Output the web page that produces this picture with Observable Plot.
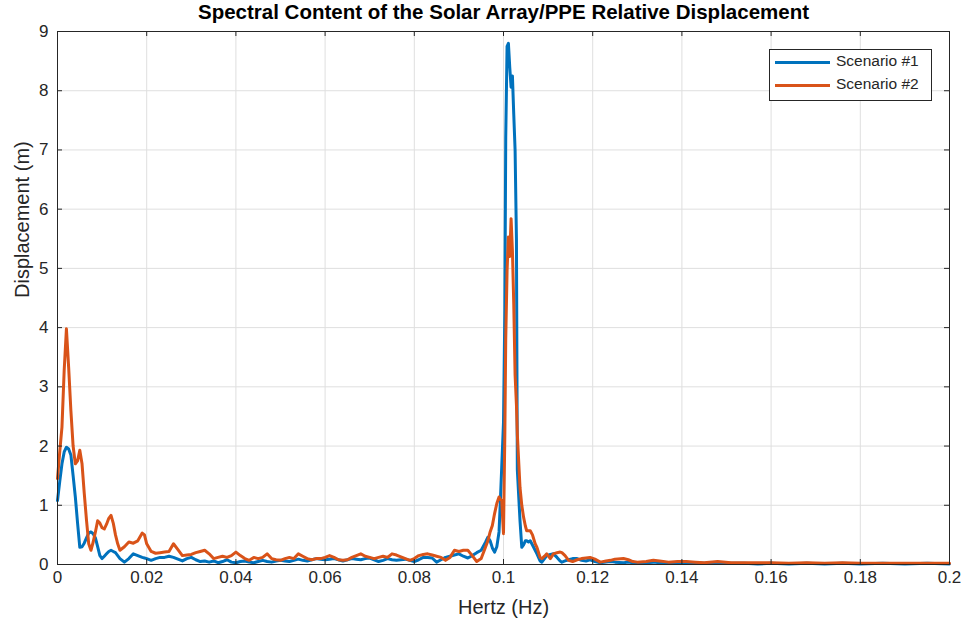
<!DOCTYPE html>
<html>
<head>
<meta charset="utf-8">
<script src="https://cdn.jsdelivr.net/npm/d3@7"></script>
<script src="https://cdn.jsdelivr.net/npm/@observablehq/plot@0.6"></script>
<style>
  body { margin: 0; background: #fff; }
  #wrap { position: relative; width: 966px; height: 627px; font-family: "Liberation Sans", Arial, Helvetica, sans-serif; }
  #legend { position: absolute; left: 769px; top: 49px; width: 161px; height: 50px; border: 1px solid #262626; background: #fff; }
  .item { position: absolute; left: 0; height: 22px; width: 160px; }
  .sw { position: absolute; left: 5px; top: 10px; width: 55px; height: 3px; }
  .lb { position: absolute; left: 66px; top: 1px; font-size: 15.5px; color: #262626; white-space: nowrap; }
</style>
</head>
<body>
<div id="wrap">
  <div id="chart"></div>
  <div id="legend"></div>
</div>
<script>
const title = "Spectral Content of the Solar Array/PPE Relative Displacement";
const xLabel = "Hertz (Hz)";
const yLabel = "Displacement (m)";
const seriesNames = ["Scenario #1", "Scenario #2"];
const seriesColors = ["#0072BD", "#D95319"];
const xTicks = [0, 0.02, 0.04, 0.06, 0.08, 0.1, 0.12, 0.14, 0.16, 0.18, 0.2];
const yTicks = [0, 1, 2, 3, 4, 5, 6, 7, 8, 9];

const freq = [
  0, 0.0005, 0.001, 0.0015, 0.002, 0.0025, 0.003, 0.0035, 0.004, 0.0045,
  0.005, 0.0055, 0.006, 0.0065, 0.007, 0.0075, 0.008, 0.0085, 0.009, 0.0095,
  0.010, 0.0105, 0.011, 0.0115, 0.012, 0.0125, 0.013, 0.0135, 0.014, 0.015,
  0.016, 0.017, 0.018, 0.019, 0.0195, 0.020, 0.021, 0.022, 0.023, 0.024,
  0.025, 0.026, 0.027, 0.028, 0.029, 0.030, 0.031, 0.032, 0.033, 0.034,
  0.035, 0.036, 0.037, 0.038, 0.039, 0.040, 0.041, 0.042, 0.043, 0.044,
  0.045, 0.046, 0.047, 0.048, 0.049, 0.050, 0.051, 0.052, 0.053, 0.054,
  0.055, 0.056, 0.057, 0.058, 0.059, 0.060, 0.061, 0.062, 0.063, 0.064,
  0.065, 0.066, 0.067, 0.068, 0.069, 0.070, 0.071, 0.072, 0.073, 0.074,
  0.075, 0.076, 0.077, 0.078, 0.079, 0.080, 0.081, 0.082, 0.083, 0.084,
  0.085, 0.086, 0.087, 0.088, 0.089, 0.090, 0.091, 0.092, 0.093, 0.094,
  0.095, 0.096, 0.0965, 0.097, 0.0975, 0.098, 0.0985, 0.099, 0.0993, 0.0996,
  0.1000, 0.1003, 0.1005, 0.1008, 0.1011, 0.1014, 0.1017, 0.1020, 0.1023, 0.1026,
  0.1029, 0.1031, 0.1037, 0.1041, 0.1045, 0.1049, 0.1052, 0.1056, 0.1060, 0.1065,
  0.1071, 0.1075, 0.1082, 0.1086, 0.1092, 0.1097, 0.1105, 0.1112, 0.1120, 0.1127,
  0.1131, 0.1138, 0.1146, 0.1155, 0.1165, 0.1175, 0.1185, 0.1194, 0.1205, 0.1217,
  0.123, 0.124, 0.125, 0.1269, 0.128, 0.129, 0.130, 0.132, 0.1336, 0.135,
  0.137, 0.139, 0.141, 0.143, 0.145, 0.148, 0.151, 0.154, 0.157, 0.160,
  0.164, 0.168, 0.172, 0.176, 0.180, 0.185, 0.190, 0.195, 0.200
];

const scenario1 = [
  1.08, 1.4, 1.7, 1.9, 1.98, 1.95, 1.85, 1.5, 1.14, 0.7,
  0.29, 0.3, 0.36, 0.45, 0.53, 0.55, 0.52, 0.45, 0.3, 0.15,
  0.1, 0.14, 0.18, 0.22, 0.24, 0.22, 0.2, 0.15, 0.1, 0.04,
  0.1, 0.18, 0.15, 0.12, 0.11, 0.1, 0.07, 0.1, 0.12, 0.12,
  0.14, 0.12, 0.09, 0.06, 0.1, 0.12, 0.08, 0.05, 0.06, 0.04,
  0.06, 0.03, 0.05, 0.08, 0.04, 0.03, 0.05, 0.06, 0.04, 0.03,
  0.05, 0.07, 0.05, 0.04, 0.06, 0.07, 0.06, 0.05, 0.07, 0.09,
  0.07, 0.06, 0.08, 0.1, 0.09, 0.08, 0.09, 0.1, 0.08, 0.06,
  0.08, 0.1, 0.09, 0.08, 0.1, 0.11, 0.08, 0.05, 0.07, 0.1,
  0.08, 0.07, 0.08, 0.09, 0.07, 0.05, 0.08, 0.12, 0.12, 0.11,
  0.04, 0.08, 0.12, 0.14, 0.16, 0.18, 0.14, 0.11, 0.15, 0.2,
  0.24, 0.38, 0.46, 0.4, 0.28, 0.21, 0.3, 0.55, 1.08, 1.64,
  2.4, 4.3, 7.2, 8.75, 8.8, 8.4, 8.06, 8.25, 7.6, 7.0,
  5.5, 1.6, 0.74, 0.29, 0.33, 0.4, 0.4, 0.38, 0.4, 0.33,
  0.24, 0.18, 0.06, 0.04, 0.1, 0.15, 0.17, 0.18, 0.12, 0.06,
  0.04, 0.06, 0.08, 0.1, 0.1, 0.07, 0.06, 0.08, 0.05, 0.03,
  0.04, 0.05, 0.04, 0.03, 0.04, 0.03, 0.02, 0.03, 0.04, 0.03,
  0.02, 0.03, 0.02, 0.03, 0.02, 0.03, 0.02, 0.02, 0.01, 0.02,
  0.01, 0.02, 0.01, 0.02, 0.01, 0.02, 0.01, 0.02, 0.01
];

const scenario2 = [
  1.45, 1.9, 2.32, 3.28, 3.98, 3.33, 2.6, 2.0, 1.7, 1.75,
  1.93, 1.7, 1.2, 0.75, 0.35, 0.24, 0.38, 0.55, 0.74, 0.7,
  0.62, 0.6, 0.68, 0.78, 0.83, 0.7, 0.5, 0.35, 0.24, 0.3,
  0.38, 0.36, 0.4, 0.53, 0.5, 0.35, 0.22, 0.19, 0.2, 0.21,
  0.22, 0.35, 0.25, 0.15, 0.16, 0.17, 0.2, 0.22, 0.24, 0.18,
  0.1, 0.12, 0.14, 0.12, 0.15, 0.21, 0.15, 0.1, 0.07, 0.12,
  0.1, 0.12, 0.18, 0.1, 0.08, 0.07, 0.1, 0.12, 0.1, 0.18,
  0.14, 0.1, 0.08, 0.1, 0.1, 0.12, 0.15, 0.12, 0.08, 0.07,
  0.08, 0.12, 0.15, 0.18, 0.14, 0.12, 0.1, 0.12, 0.14, 0.12,
  0.18, 0.16, 0.13, 0.1, 0.07, 0.1, 0.15, 0.17, 0.18, 0.16,
  0.14, 0.12, 0.07, 0.12, 0.24, 0.22, 0.24, 0.24, 0.15, 0.05,
  0.1, 0.3, 0.4, 0.55, 0.66, 0.86, 1.03, 1.14, 1.1, 1.08,
  0.52, 2.2, 3.8, 4.96, 5.53, 5.2, 5.84, 5.3, 4.4, 3.2,
  2.7, 2.2, 1.3, 1.0, 0.8, 0.65, 0.57, 0.57, 0.57, 0.5,
  0.35, 0.29, 0.12, 0.1, 0.14, 0.18, 0.1, 0.18, 0.2, 0.21,
  0.2, 0.15, 0.07, 0.05, 0.08, 0.1, 0.11, 0.12, 0.09, 0.04,
  0.06, 0.07, 0.09, 0.1, 0.08, 0.05, 0.04, 0.05, 0.07, 0.06,
  0.04, 0.05, 0.05, 0.04, 0.03, 0.05, 0.03, 0.03, 0.03, 0.03,
  0.02, 0.03, 0.02, 0.03, 0.02, 0.02, 0.02, 0.02, 0.02
];

const W = 966, H = 627, mL = 57, mR = 17, mT = 31, mB = 63;
const innerW = W - mL - mR, innerH = H - mT - mB;
const font = '"Liberation Sans", Arial, Helvetica, sans-serif';
const ink = "#262626";

const rows = freq.map((f, i) => ({f, s1: scenario1[i], s2: scenario2[i]}));

const chart = Plot.plot({
  width: W, height: H,
  marginLeft: mL, marginRight: mR, marginTop: mT, marginBottom: mB,
  style: {fontFamily: font, fontSize: "16px", color: ink, background: "white", overflow: "visible"},
  x: {domain: [0, 0.2]},
  y: {domain: [0, 9]},
  marks: [
    Plot.gridX(xTicks, {stroke: "#dfdfdf", strokeOpacity: 1}),
    Plot.gridY(yTicks, {stroke: "#dfdfdf", strokeOpacity: 1}),
    Plot.lineY(rows, {x: "f", y: "s1", stroke: seriesColors[0], strokeWidth: 3}),
    Plot.lineY(rows, {x: "f", y: "s2", stroke: seriesColors[1], strokeWidth: 3}),
    Plot.frame({stroke: ink, strokeWidth: 1}),
    Plot.tickX(xTicks, {x: d => d, insetTop: innerH - 5, stroke: ink}),
    Plot.tickX(xTicks, {x: d => d, insetBottom: innerH - 5, stroke: ink}),
    Plot.tickY(yTicks, {y: d => d, insetRight: innerW - 5, stroke: ink}),
    Plot.tickY(yTicks, {y: d => d, insetLeft: innerW - 5, stroke: ink}),
    Plot.axisX(xTicks, {tickSize: 0, tickPadding: 6, tickFormat: d => String(d), label: null, fill: ink, fontSize: 17}),
    Plot.axisY(yTicks, {tickSize: 0, tickPadding: 9, tickFormat: d => String(d), label: null, fill: ink, fontSize: 17}),
    Plot.text([xLabel], {frameAnchor: "bottom", dy: 49, fontSize: 20, fill: ink}),
    Plot.text([yLabel], {frameAnchor: "left", dx: -35, rotate: -90, fontSize: 20, fill: ink}),
    Plot.text([title], {frameAnchor: "top", dy: -27, fontSize: 20.5, fontWeight: "bold", fill: "#000"})
  ]
});
document.getElementById("chart").appendChild(chart);

const legend = document.getElementById("legend");
seriesNames.forEach((name, i) => {
  const item = document.createElement("div");
  item.className = "item";
  item.style.top = (1 + i * 23) + "px";
  item.innerHTML = `<div class="sw" style="background:${seriesColors[i]}"></div><div class="lb">${name}</div>`;
  legend.appendChild(item);
});
</script>
</body>
</html>
